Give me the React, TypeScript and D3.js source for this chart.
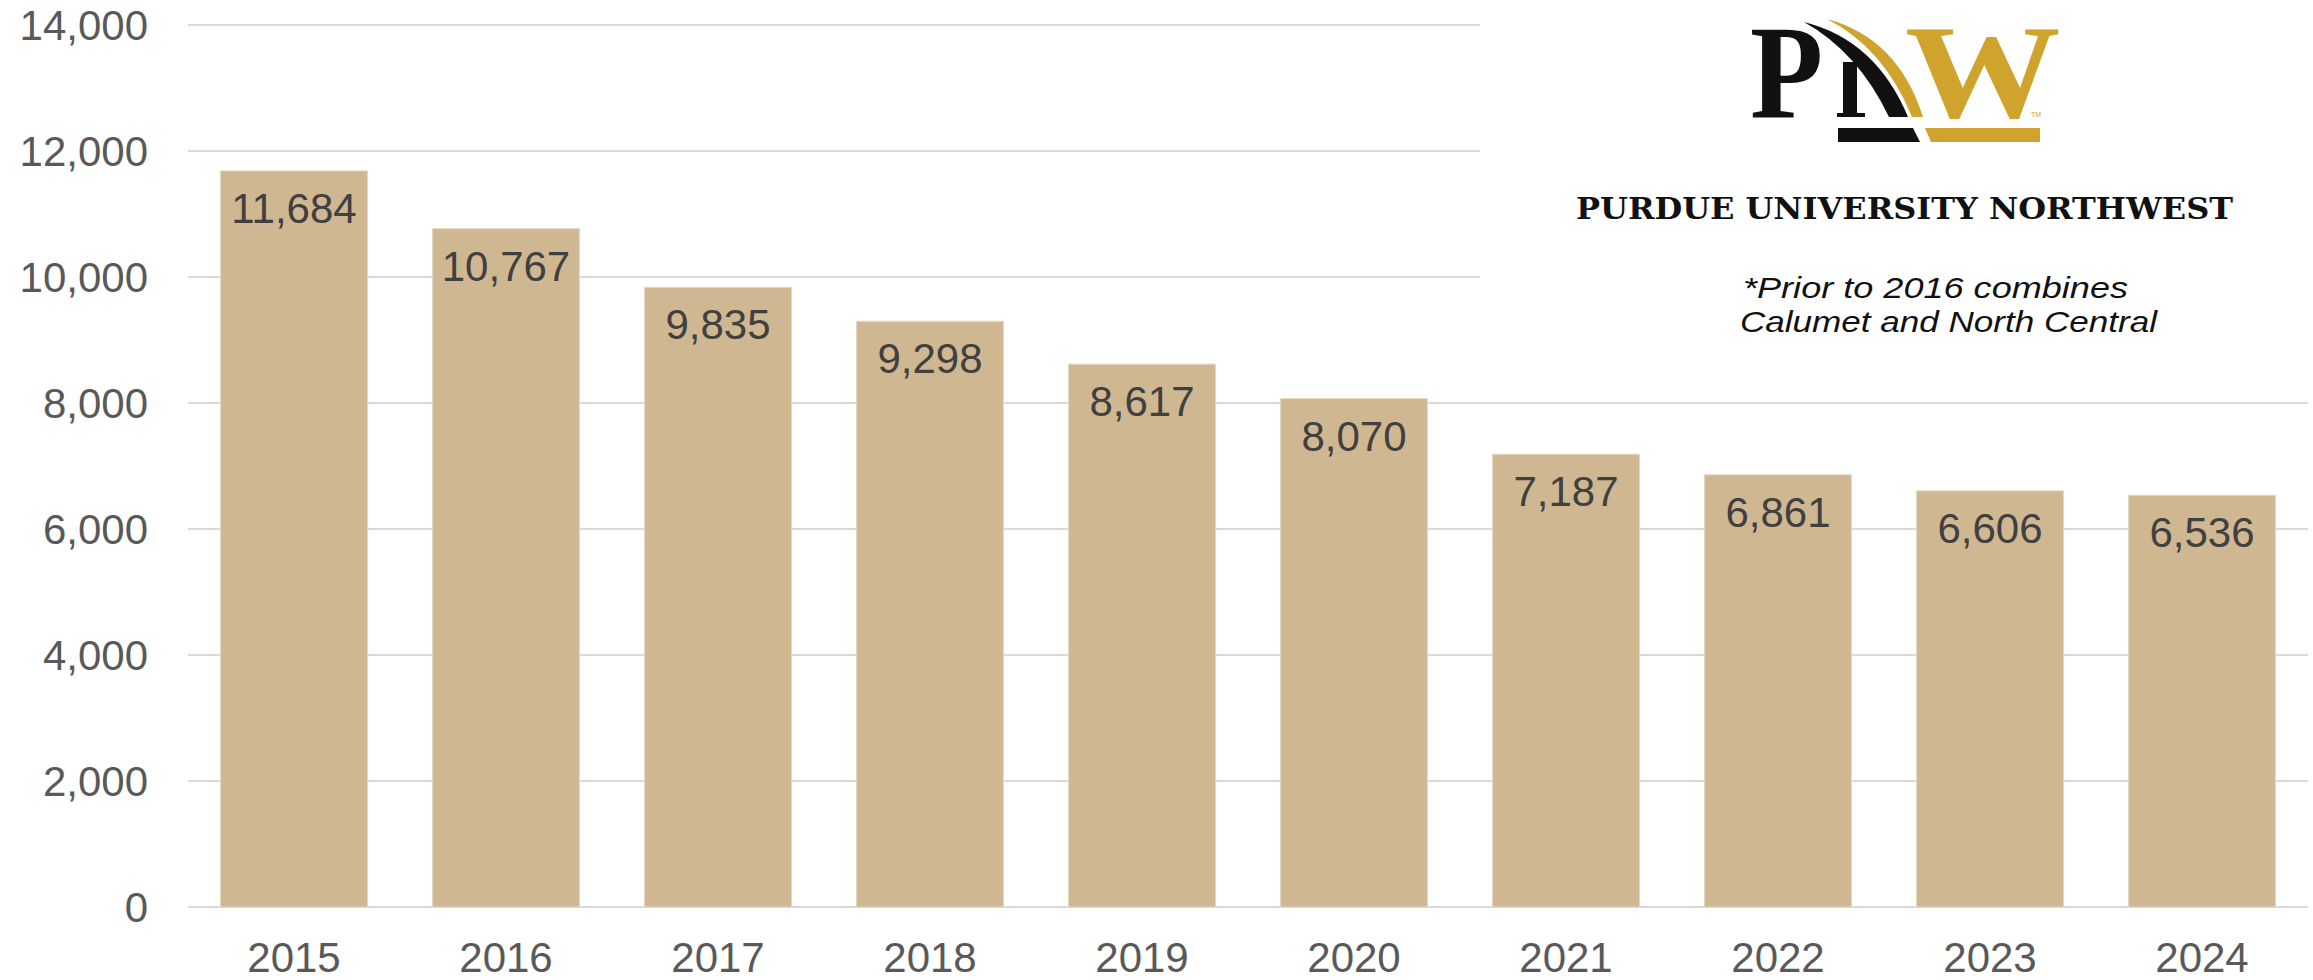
import { useEffect } from 'react'
import * as d3 from 'd3'

// Fall enrollment by year
const years = ['2015', '2016', '2017', '2018', '2019', '2020', '2021', '2022', '2023', '2024']
const enrollment = [11684, 10767, 9835, 9298, 8617, 8070, 7187, 6861, 6606, 6536]
const yTicks = [0, 2000, 4000, 6000, 8000, 10000, 12000, 14000]

const noteLines = ['*Prior to 2016 combines', 'Calumet and North Central']

const W = 2313
const H = 980
const LEFT = 188
const RIGHT = 2308
const TOP = 25
const BOTTOM = 907

const BAR = '#CFB791'
const GOLD = '#CFA32C'
const SANS = '"Liberation Sans", Arial, sans-serif'
const SERIF = '"Liberation Serif", "Times New Roman", serif'

const fmt = d3.format(',')

function Logo() {
  return (
    <g>
      {/* P */}
      <text x={0} y={0} transform="translate(1750,117) scale(0.9,1)"
        style={{ fontFamily: SERIF, fontWeight: 700, fontSize: 133, fill: '#111' }}>P</text>
      {/* N stem */}
      <rect x={1843} y={62} width={14} height={55} fill="#111" />
      <rect x={1837} y={113} width={28} height={4} fill="#111" />
      {/* black swoosh (N diagonal) */}
      <path d="M1804,22 Q1876,40 1908,117 L1889,117 Q1858,52 1804,22 Z" fill="#111" />
      {/* gold swoosh */}
      <path d="M1827,19 Q1898,38 1923,117 L1912,117 Q1884,48 1827,19 Z" fill={GOLD} />
      {/* W */}
      <text x={0} y={0} transform="translate(1905,117) scale(1.17,1)"
        style={{ fontFamily: SERIF, fontWeight: 700, fontSize: 133, fill: GOLD }}>W</text>
      <text x={2031} y={117} style={{ fontFamily: SANS, fontSize: 7, fill: GOLD }}>TM</text>
      {/* underline bars */}
      <path d="M1838,128 L1913,128 L1920,142 L1838,142 Z" fill="#111" />
      <path d="M1925,128 L2040,128 L2040,142 L1931,142 Z" fill={GOLD} />
    </g>
  )
}

export default function App() {
  useEffect(() => {
    document.body.style.margin = '0'
  }, [])

  const x = d3.scaleBand<string>()
    .domain(years)
    .range([LEFT, RIGHT])
    .paddingInner(0.307)
    .paddingOuter(0.1535)

  const y = d3.scaleLinear().domain([0, 14000]).range([BOTTOM, TOP])

  return (
    <svg width={W} height={H} style={{ display: 'block', background: '#fff' }}>
      {/* gridlines */}
      {yTicks.map((t) => (
        <line key={t} x1={LEFT} x2={RIGHT} y1={y(t)} y2={y(t)} stroke="#D9D9D9" strokeWidth={2} />
      ))}

      {/* logo background covers the upper gridlines */}
      <rect x={1480} y={0} width={W - 1480} height={360} fill="#fff" />
      <Logo />
      <text x={1576} y={219} textLength={657} lengthAdjust="spacingAndGlyphs"
        style={{ fontFamily: '"DejaVu Serif", serif', fontWeight: 700, fontSize: 30, fill: '#111' }}>
        PURDUE UNIVERSITY NORTHWEST
      </text>
      {noteLines.map((s, i) => (
        <text key={s} x={i === 0 ? 1743 : 1740} y={298 + i * 34}
          textLength={i === 0 ? 385 : 417} lengthAdjust="spacingAndGlyphs"
          style={{ fontFamily: SANS, fontStyle: 'italic', fontSize: 30, fill: '#111' }}>
          {s}
        </text>
      ))}

      {/* y tick labels */}
      {yTicks.map((t) => (
        <text key={t} x={148} y={y(t) + 15} textAnchor="end"
          style={{ fontFamily: SANS, fontSize: 42, fill: '#595959' }}>
          {fmt(t)}
        </text>
      ))}

      {/* bars */}
      {years.map((yr, i) => (
        <rect key={yr} x={x(yr)} y={y(enrollment[i])} width={x.bandwidth()}
          height={BOTTOM - y(enrollment[i])} fill={BAR} stroke="#E6D9C2" strokeWidth={1} />
      ))}

      {/* data labels */}
      {years.map((yr, i) => (
        <text key={yr} x={(x(yr) ?? 0) + x.bandwidth() / 2} y={y(enrollment[i]) + 52}
          textAnchor="middle" style={{ fontFamily: SANS, fontSize: 42, fill: '#404040' }}>
          {fmt(enrollment[i])}
        </text>
      ))}

      {/* x labels */}
      {years.map((yr) => (
        <text key={yr} x={(x(yr) ?? 0) + x.bandwidth() / 2} y={972} textAnchor="middle"
          style={{ fontFamily: SANS, fontSize: 42, fill: '#595959' }}>
          {yr}
        </text>
      ))}
    </svg>
  )
}
